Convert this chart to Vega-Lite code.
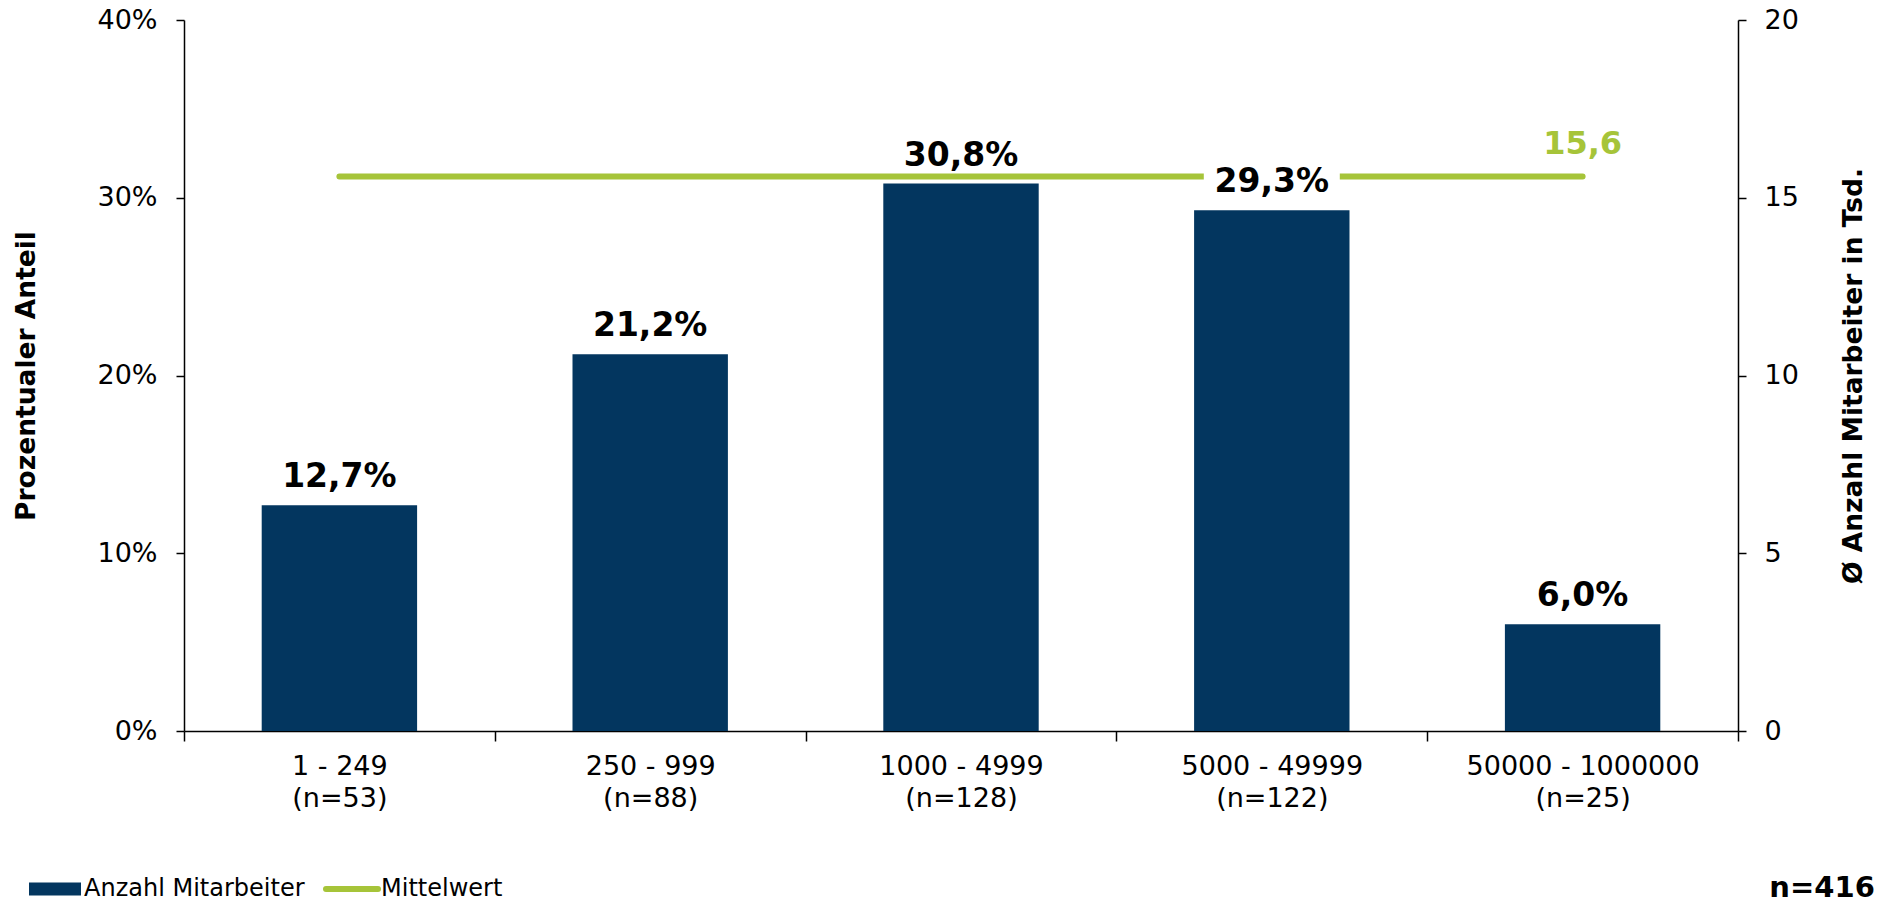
{
  "$schema": "https://vega.github.io/schema/vega-lite/v6.json",
  "width": 1554,
  "height": 711,
  "autosize": {"type": "none"},
  "padding": {"left": 184, "top": 20, "right": 147, "bottom": 177},
  "background": "white",
  "config": {
    "font": "DejaVu Sans",
    "view": {"stroke": null},
    "locale": {"number": {"decimal": ",", "thousands": ".", "grouping": [3], "currency": ["", " €"]}},
    "axis": {
      "domainColor": "black", "tickColor": "black", "labelColor": "black", "titleColor": "black",
      "domainWidth": 1.5, "tickWidth": 1.5, "grid": false,
      "labelFont": "DejaVu Sans", "titleFont": "DejaVu Sans"
    }
  },
  "title": {
    "text": "n=416", "orient": "bottom", "anchor": "end", "frame": "bounds",
    "fontSize": 29, "fontWeight": "bold", "font": "DejaVu Sans", "color": "black", "offset": -27, "dx": 8
  },
  "data": {
    "values": [
      {"kategorie": "1 - 249 (n=53)", "anteil": 0.127, "mittelwert": 15.6},
      {"kategorie": "250 - 999 (n=88)", "anteil": 0.212, "mittelwert": 15.6},
      {"kategorie": "1000 - 4999 (n=128)", "anteil": 0.308, "mittelwert": 15.6},
      {"kategorie": "5000 - 49999 (n=122)", "anteil": 0.293, "mittelwert": 15.6},
      {"kategorie": "50000 - 1000000 (n=25)", "anteil": 0.06, "mittelwert": 15.6}
    ]
  },
  "encoding": {
    "x": {
      "field": "kategorie", "type": "nominal", "sort": null,
      "scale": {"paddingInner": 0, "paddingOuter": 0},
      "axis": {
        "title": null, "labelAngle": 0, "labelFontSize": 27, "labelLineHeight": 32,
        "tickSize": 10, "tickBand": "extent", "labelPadding": 12, "labelLimit": 0,
        "labelExpr": "[slice(datum.label, 0, indexof(datum.label, ' (')), slice(datum.label, indexof(datum.label, ' (') + 1)]"
      }
    }
  },
  "layer": [
    {
      "encoding": {
        "y": {
          "field": "mittelwert", "type": "quantitative",
          "scale": {"domain": [0, 20]},
          "axis": {
            "orient": "right", "values": [0, 5, 10, 15, 20], "tickSize": 8, "labelPadding": 18,
            "labelFontSize": 27, "title": "Ø Anzahl Mitarbeiter in Tsd.", "titleFontSize": 26.5,
            "titleFontWeight": "bold", "titleAngle": 270, "titleBaseline": "top", "titlePadding": 42
          }
        }
      },
      "layer": [
        {
          "mark": {"type": "line", "color": "#A6C439", "strokeWidth": 6, "strokeCap": "round"}
        },
        {
          "transform": [{"filter": "datum.kategorie == '50000 - 1000000 (n=25)'"}],
          "mark": {"type": "text", "color": "#A6C439", "fontSize": 32, "fontWeight": "bold", "baseline": "alphabetic", "dy": -22},
          "encoding": {"text": {"field": "mittelwert", "type": "quantitative", "format": ".1f"}}
        }
      ]
    },
    {
      "encoding": {
        "y": {
          "field": "anteil", "type": "quantitative",
          "scale": {"domain": [0, 0.4]},
          "axis": {
            "orient": "left", "values": [0, 0.1, 0.2, 0.3, 0.4], "format": ".0%", "tickSize": 8,
            "labelPadding": 19, "labelFontSize": 27, "title": "Prozentualer Anteil", "titleFontSize": 26.5,
            "titleFontWeight": "bold", "titlePadding": 56
          }
        }
      },
      "layer": [
        {
          "mark": {
            "type": "point", "filled": true, "fill": "white", "stroke": null, "opacity": 1,
            "shape": "M-1,-0.28L1,-0.28L1,0.28L-1,0.28Z", "size": 18496, "yOffset": -31
          }
        },
        {
          "mark": {"type": "bar", "width": {"band": 0.5}},
          "encoding": {
            "color": {
              "datum": "Anzahl Mitarbeiter", "type": "nominal",
              "scale": {"domain": ["Anzahl Mitarbeiter", "Mittelwert"], "range": ["#03365F", "#A6C439"]},
              "legend": {
                "orient": "none", "legendX": -141, "legendY": 857, "direction": "horizontal",
                "title": null, "symbolSize": 2704, "labelFontSize": 24, "labelColor": "black",
                "labelFont": "DejaVu Sans", "labelOffset": 17, "columnPadding": 9, "labelLimit": 0,
                "padding": 0,
                "symbolType": "M-1,-0.25L1,-0.25L1,0.25L-1,0.25Z",
                "encode": {
                  "symbols": {
                    "update": {
                      "shape": {"signal": "datum.value === 'Mittelwert' ? 'M-1,0L1,0' : 'M-1,-0.25L1,-0.25L1,0.25L-1,0.25Z'"},
                      "fill": {"signal": "datum.value === 'Mittelwert' ? 'transparent' : '#03365F'"},
                      "stroke": {"signal": "datum.value === 'Mittelwert' ? '#A6C439' : 'transparent'"},
                      "strokeWidth": {"signal": "datum.value === 'Mittelwert' ? 6 : 0"},
                      "strokeCap": {"value": "round"},
                      "opacity": {"value": 1}
                    }
                  }
                }
              }
            }
          }
        },
        {
          "mark": {"type": "text", "color": "black", "fontSize": 33, "fontWeight": "bold", "baseline": "alphabetic", "dy": -18},
          "encoding": {"text": {"field": "anteil", "type": "quantitative", "format": ".1%"}}
        }
      ]
    }
  ],
  "resolve": {"scale": {"y": "independent"}}
}
